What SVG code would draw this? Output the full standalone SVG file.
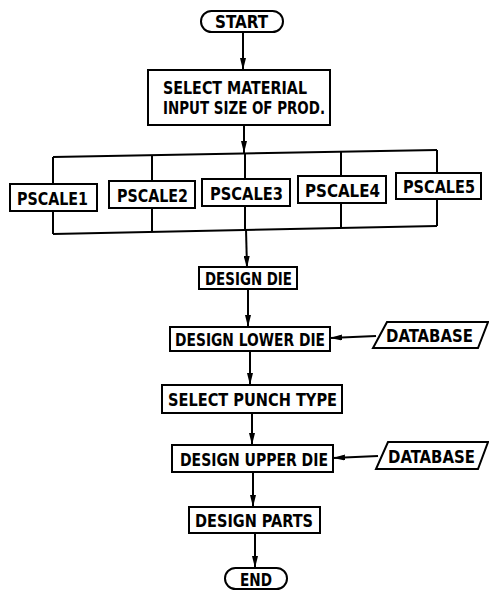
<svg xmlns="http://www.w3.org/2000/svg" width="489" height="591" viewBox="0 0 489 591">
<style>
.b{fill:#fff;stroke:#000;stroke-width:2}
.t{font-family:"DejaVu Sans Condensed","DejaVu Sans",sans-serif;font-weight:bold;font-size:18px;fill:#000}
.c{fill:none;stroke:#000;stroke-width:2}
</style>
<defs>
<marker id="a" viewBox="0 0 12 6" refX="12" refY="3" markerWidth="12" markerHeight="6" markerUnits="userSpaceOnUse" orient="auto">
<path d="M0,0 L12,3 L0,6 Z" fill="#000"/>
</marker>
</defs>
<g id="connectors">
<path class="c" d="M243,32 L243,70" marker-end="url(#a)"/>
<path class="c" d="M244,125 L244,153" marker-end="url(#a)"/>
<path class="c" d="M53,157 L437,150"/>
<path class="c" d="M53,234 L437,226"/>
<path class="c" d="M53,157 L53,234"/>
<path class="c" d="M152,155 L152,232"/>
<path class="c" d="M245,153 L245,229"/>
<path class="c" d="M341,152 L341,228"/>
<path class="c" d="M437,150 L437,226"/>
<path class="c" d="M246,229 L247,268" marker-end="url(#a)"/>
<path class="c" d="M248,288 L248,327" marker-end="url(#a)"/>
<path class="c" d="M376,336 L330,338" marker-end="url(#a)"/>
<path class="c" d="M250,350 L250,385" marker-end="url(#a)"/>
<path class="c" d="M252,413 L252,445" marker-end="url(#a)"/>
<path class="c" d="M378,456 L333,458" marker-end="url(#a)"/>
<path class="c" d="M253,472 L253,507" marker-end="url(#a)"/>
<path class="c" d="M255,533 L255,568" marker-end="url(#a)"/>
</g>
<g id="start"><rect class="b" x="201" y="11" width="82" height="21" rx="10.5"/><text class="t" x="215" y="28" textLength="53" lengthAdjust="spacingAndGlyphs">START</text></g>
<g id="select-material"><rect class="b" x="148" y="70" width="182" height="55"/><text class="t" x="163" y="94" textLength="144" lengthAdjust="spacingAndGlyphs">SELECT MATERIAL</text><text class="t" x="163" y="114" textLength="162" lengthAdjust="spacingAndGlyphs">INPUT SIZE OF PROD.</text></g>
<g id="pscale1"><rect class="b" x="10" y="184" width="87" height="27"/><text class="t" x="17" y="205" textLength="71" lengthAdjust="spacingAndGlyphs">PSCALE1</text></g>
<g id="pscale2"><rect class="b" x="109" y="181" width="86" height="27"/><text class="t" x="117" y="202" textLength="71" lengthAdjust="spacingAndGlyphs">PSCALE2</text></g>
<g id="pscale3"><rect class="b" x="202" y="179" width="88" height="27"/><text class="t" x="210" y="200" textLength="73" lengthAdjust="spacingAndGlyphs">PSCALE3</text></g>
<g id="pscale4"><rect class="b" x="298" y="176" width="88" height="27"/><text class="t" x="305" y="197" textLength="75" lengthAdjust="spacingAndGlyphs">PSCALE4</text></g>
<g id="pscale5"><rect class="b" x="396" y="173" width="85" height="26"/><text class="t" x="403" y="193" textLength="72" lengthAdjust="spacingAndGlyphs">PSCALE5</text></g>
<g id="design-die"><rect class="b" x="199" y="267" width="98" height="22"/><text class="t" x="205" y="285" textLength="87" lengthAdjust="spacingAndGlyphs">DESIGN DIE</text></g>
<g id="design-lower-die"><rect class="b" x="170" y="327" width="160" height="24"/><text class="t" x="175" y="346" textLength="150" lengthAdjust="spacingAndGlyphs">DESIGN LOWER DIE</text></g>
<g id="database1"><path class="b" d="M387,322 L488,322 L478,348 L373,348 Z"/><text class="t" x="386" y="342" textLength="87" lengthAdjust="spacingAndGlyphs">DATABASE</text></g>
<g id="select-punch-type"><rect class="b" x="162" y="385" width="180" height="28"/><text class="t" x="168" y="406" textLength="169" lengthAdjust="spacingAndGlyphs">SELECT PUNCH TYPE</text></g>
<g id="design-upper-die"><rect class="b" x="172" y="445" width="161" height="27"/><text class="t" x="180" y="466" textLength="148" lengthAdjust="spacingAndGlyphs">DESIGN UPPER DIE</text></g>
<g id="database2"><path class="b" d="M388,442 L488,442 L478,469 L376,469 Z"/><text class="t" x="388" y="463" textLength="87" lengthAdjust="spacingAndGlyphs">DATABASE</text></g>
<g id="design-parts"><rect class="b" x="189" y="507" width="131" height="26"/><text class="t" x="195" y="527" textLength="118" lengthAdjust="spacingAndGlyphs">DESIGN PARTS</text></g>
<g id="end"><rect class="b" x="225" y="568" width="62" height="21" rx="10.5"/><text class="t" x="240" y="586" textLength="32" lengthAdjust="spacingAndGlyphs">END</text></g>
</svg>
